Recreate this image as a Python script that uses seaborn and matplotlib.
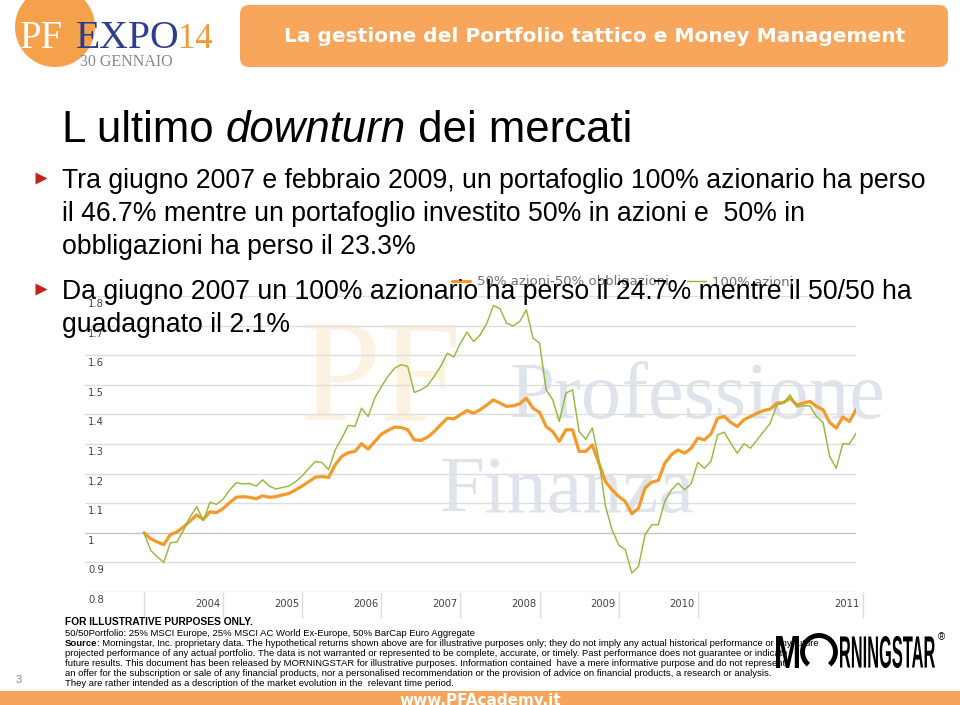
"""
L'ultimo downturn dei mercati - slide PF Expo 2014
Ricostruzione del grafico Morningstar (100% azioni vs 50/50) con seaborn.
"""

import matplotlib

matplotlib.use("Agg")

import matplotlib.pyplot as plt
import pandas as pd
import seaborn as sns
from matplotlib import font_manager
from matplotlib.lines import Line2D
from matplotlib.patches import Arc, Circle, FancyBboxPatch, PathPatch, Rectangle
from matplotlib.textpath import TextPath
from matplotlib.transforms import Affine2D, blended_transform_factory

# ---------------------------------------------------------------------------
# Data (monthly index values, Jan 2003 = 1.0)
# ---------------------------------------------------------------------------
MONTHS = list(range(109))

AZIONI_100 = [
    1.000, 0.941, 0.919, 0.900, 0.966, 0.969, 1.009, 1.054, 1.088, 1.041,
    1.103, 1.096, 1.114, 1.145, 1.169, 1.165, 1.167, 1.158, 1.179, 1.158,
    1.148, 1.153, 1.158, 1.173, 1.192, 1.218, 1.241, 1.237, 1.213, 1.280,
    1.320, 1.363, 1.359, 1.421, 1.393, 1.455, 1.494, 1.528, 1.556, 1.568,
    1.562, 1.474, 1.483, 1.497, 1.528, 1.562, 1.607, 1.594, 1.641, 1.678,
    1.646, 1.669, 1.708, 1.768, 1.757, 1.708, 1.699, 1.714, 1.753, 1.658,
    1.641, 1.483, 1.449, 1.376, 1.472, 1.483, 1.342, 1.316, 1.354, 1.247,
    1.089, 1.010, 0.959, 0.943, 0.864, 0.886, 0.993, 1.027, 1.027, 1.106,
    1.145, 1.168, 1.145, 1.166, 1.238, 1.218, 1.241, 1.331, 1.340, 1.303,
    1.269, 1.301, 1.286, 1.314, 1.342, 1.371, 1.432, 1.438, 1.466, 1.425,
    1.429, 1.429, 1.393, 1.373, 1.258, 1.218, 1.301, 1.300, 1.337,
]

AZIONI_50_OBBL_50 = [
    1.000, 0.980, 0.969, 0.960, 0.994, 1.003, 1.020, 1.040, 1.060, 1.045,
    1.071, 1.068, 1.082, 1.102, 1.120, 1.122, 1.120, 1.115, 1.125, 1.120,
    1.122, 1.128, 1.133, 1.145, 1.158, 1.173, 1.188, 1.190, 1.187, 1.230,
    1.258, 1.271, 1.275, 1.301, 1.283, 1.308, 1.333, 1.346, 1.357, 1.356,
    1.348, 1.314, 1.312, 1.323, 1.342, 1.365, 1.387, 1.385, 1.399, 1.413,
    1.404, 1.416, 1.432, 1.449, 1.438, 1.427, 1.429, 1.436, 1.455, 1.421,
    1.407, 1.359, 1.342, 1.309, 1.348, 1.348, 1.275, 1.275, 1.297, 1.235,
    1.173, 1.145, 1.123, 1.106, 1.064, 1.083, 1.151, 1.171, 1.177, 1.235,
    1.264, 1.280, 1.269, 1.286, 1.320, 1.314, 1.334, 1.387, 1.393, 1.373,
    1.359, 1.382, 1.393, 1.404, 1.413, 1.418, 1.438, 1.440, 1.455, 1.432,
    1.438, 1.444, 1.427, 1.416, 1.373, 1.354, 1.391, 1.376, 1.416,
]

SERIES_LABELS = ["50% azioni-50% obbligazioni", "100% azioni"]
Y_TICKS = [0.8, 0.9, 1.0, 1.1, 1.2, 1.3, 1.4, 1.5, 1.6, 1.7, 1.8]
Y_TICK_LABELS = ["0.8", "0.9", "1", "1.1", "1.2", "1.3", "1.4", "1.5", "1.6", "1.7", "1.8"]
YEAR_TICKS = [12, 24, 36, 48, 60, 72, 84, 109]
YEAR_LABELS = ["2004", "2005", "2006", "2007", "2008", "2009", "2010", "2011"]

# ---------------------------------------------------------------------------
# Text of the slide
# ---------------------------------------------------------------------------
BANNER = "La gestione del Portfolio tattico e Money Management"
BULLET_1 = [
    "Tra giugno 2007 e febbraio 2009, un portafoglio 100% azionario ha perso",
    "il 46.7% mentre un portafoglio investito 50% in azioni e  50% in",
    "obbligazioni ha perso il 23.3%",
]
BULLET_2 = [
    "Da giugno 2007 un 100% azionario ha perso il 24.7% mentre il 50/50 ha",
    "guadagnato il 2.1%",
]
FOOTER = [
    "50/50Portfolio: 25% MSCI Europe, 25% MSCI AC World Ex-Europe, 50% BarCap Euro Aggregate",
    None,  # Source line, built below with a bold prefix
    "projected performance of any actual portfolio. The data is not warranted or represented to be complete, accurate, or timely. Past performance does not guarantee or indicate",
    "future results. This document has been released by MORNINGSTAR for illustrative purposes. Information contained  have a mere informative purpose and do not represent",
    "an offer for the subscription or sale of any financial products, nor a personalised recommendation or the provision of advice on financial products, a research or analysis.",
    "They are rather intended as a description of the market evolution in the  relevant time period.",
]
FOOTER_Y = [633, 643, 653, 663, 673, 683]
SOURCE_REST = (": Morningstar, Inc. proprietary data. The hypothetical returns shown above are for "
               "illustrative purposes only; they do not imply any actual historical performance or any future")

# ---------------------------------------------------------------------------
# Styling
# ---------------------------------------------------------------------------
sns.set_style("white")
plt.rcParams["font.family"] = ["Liberation Sans", "DejaVu Sans"]

ORANGE = "#f39a2a"
GREEN = "#97b93b"
SLIDE_ORANGE = "#f8a65b"
NAVY = "#2d3c8e"


def pick_font(candidates):
    for name in candidates:
        try:
            font_manager.findfont(name, fallback_to_default=False)
            return name
        except ValueError:
            continue
    return "DejaVu Sans"


NARROW = pick_font(["Liberation Sans Narrow", "Liberation Sans"])
SERIF = pick_font(["Liberation Serif", "DejaVu Serif"])

W, H, DPI = 960, 705, 100
fig = plt.figure(figsize=(W / DPI, H / DPI), dpi=DPI)
PIX = Affine2D().scale(1 / DPI) + fig.dpi_scale_trans
renderer = fig.canvas.get_renderer()


def ftext(x, y, s, **kw):
    """Text at pixel position measured from the top-left corner."""
    return fig.text(x, H - y, s, transform=PIX, **kw)


# ---------------------------------------------------------------------------
# Background watermark (faint)
# ---------------------------------------------------------------------------
ftext(300, 420, "PF", fontsize=105, family=SERIF, color="#fdf1e2", zorder=-2)
ftext(510, 418, "Professione", fontsize=58, family=SERIF, color="#dfe3ec", zorder=-2)
ftext(440, 512, "Finanza", fontsize=58, family=SERIF, color="#dfe3ec", zorder=-2)

# ---------------------------------------------------------------------------
# Chart
# ---------------------------------------------------------------------------
ax = fig.add_axes([85 / W, 1 - 592 / H, (856 - 85) / W, (592 - 296) / H])
ax.set_facecolor("none")
df = pd.DataFrame({"mese": MONTHS, "bilanciato": AZIONI_50_OBBL_50, "azionario": AZIONI_100})

for y in Y_TICKS:
    ax.axhline(y, color="#c4c4c4" if y == 1.0 else "#dedede", lw=1.0, zorder=1)

sns.lineplot(data=df, x="mese", y="bilanciato", color=ORANGE, lw=2.3,
             label=SERIES_LABELS[0], ax=ax, zorder=3)
sns.lineplot(data=df, x="mese", y="azionario", color=GREEN, lw=1.05,
             label=SERIES_LABELS[1], ax=ax, zorder=4)

ax.set_xlim(-8.95, 108)
ax.set_ylim(0.8, 1.8)
ax.set_xticks([])
ax.set_yticks([])
ax.set_xlabel("")
ax.set_ylabel("")
for side in ax.spines.values():
    side.set_visible(False)

ytrans = blended_transform_factory(ax.transAxes, ax.transData)
for y, lbl in zip(Y_TICKS, Y_TICK_LABELS):
    ax.annotate(lbl, xy=(0.004, y), xycoords=ytrans, xytext=(0, -3),
                textcoords="offset pixels", va="top", ha="left",
                fontsize=7.2, family="DejaVu Sans", color="#444444")

# year band below the plot
xtrans = blended_transform_factory(ax.transData, PIX)
ax.vlines([0] + YEAR_TICKS, H - 618, H - 592, transform=xtrans, color="#dcdcdc",
          lw=1.0, clip_on=False)
for x, lbl in zip(YEAR_TICKS, YEAR_LABELS):
    ax.annotate(lbl, xy=(x, H - 604), xycoords=xtrans, xytext=(-3, 0),
                textcoords="offset pixels", ha="right", va="center",
                fontsize=7.2, family="DejaVu Sans", color="#444444")

leg = ax.legend(loc="center left", bbox_to_anchor=(452, H - 282), bbox_transform=PIX,
                ncol=2, frameon=False, borderpad=0, borderaxespad=0,
                handlelength=1.4, handletextpad=0.5, columnspacing=1.4,
                prop={"family": "DejaVu Sans", "size": 9.5})
for t in leg.get_texts():
    t.set_color("#707070")

# ---------------------------------------------------------------------------
# Header: logo and banner
# ---------------------------------------------------------------------------
fig.add_artist(Circle((55, H - 27), 40, transform=PIX, fc="#f5a04b", ec="none"))
ftext(20, 48, "PF", fontsize=28, family=SERIF, color="white")
ftext(76, 48, "EXPO", fontsize=28.5, family=SERIF, color=NAVY)
ftext(178, 48, "14", fontsize=25, family=SERIF, color="#f29a3a")
ftext(80, 62, "30 GENNAIO", fontsize=11.5, family=SERIF, color="#8a8a8a", va="center")

fig.add_artist(FancyBboxPatch((240, H - 67), 708, 62, transform=PIX,
                              boxstyle="round,pad=0,rounding_size=9",
                              fc=SLIDE_ORANGE, ec="none"))
ftext(595, 37, BANNER, fontsize=14.5, weight="bold", family="DejaVu Sans",
      color="white", ha="center", va="center")

# ---------------------------------------------------------------------------
# Title and bullets
# ---------------------------------------------------------------------------
x0 = 62
parts = [("L ultimo ", "normal"), ("downturn", "italic"), (" dei mercati", "normal")]
for s, style in parts:
    t = ftext(x0, 142, s, fontsize=31.5, style=style, color="black")
    x0 = t.get_window_extent(renderer).x1

for i, line in enumerate(BULLET_1):
    ftext(62, 188 + 33 * i, line, fontsize=19.2, color="black")
for i, line in enumerate(BULLET_2):
    ftext(62, 299 + 33 * i, line, fontsize=19.2, color="black")
for yb in (178, 289):
    fig.add_artist(Line2D([41], [H - yb], marker=">", ms=9, color="#c8201f",
                          mec="none", transform=PIX))

# ---------------------------------------------------------------------------
# Footer
# ---------------------------------------------------------------------------
FOOT = dict(fontsize=6.8, family=NARROW, color="black", va="center")
ftext(65, 622, "FOR ILLUSTRATIVE PURPOSES ONLY.", weight="bold",
      **{**FOOT, "fontsize": 7.4})
for y, line in zip(FOOTER_Y, FOOTER):
    if line is None:
        t = ftext(65, y, "Source", weight="bold", **FOOT)
        ftext(t.get_window_extent(renderer).x1, y, SOURCE_REST, **FOOT)
    else:
        ftext(65, y, line, **FOOT)
ftext(16, 680, "3", fontsize=8, color="#8a8a8a", va="center")


# Morningstar logo
def logo_word(s, x, y_top, w, h):
    tp = TextPath((0, 0), s, size=1, prop=font_manager.FontProperties(family=NARROW, weight="bold"))
    bb = tp.get_extents()
    tr = (Affine2D().translate(-bb.x0, -bb.y0).scale(w / bb.width, h / bb.height)
          .translate(x, H - y_top - h) + PIX)
    fig.add_artist(PathPatch(tp, transform=tr, fc="black", ec="none"))


fig.add_artist(Rectangle((774, H - 670), 174, 38, transform=PIX, fc="white", ec="none"))
logo_word("M", 776, 636, 23, 32)
fig.add_artist(Arc((819, H - 652), 33, 33, theta1=-50, theta2=230, transform=PIX,
                   lw=3.5, color="black"))
logo_word("RNINGSTAR", 840, 636, 95, 32)
ftext(941, 637, "®", fontsize=7, color="black", ha="center", va="center")

# bottom band
fig.add_artist(Rectangle((0, 0), W, H - 691, transform=PIX, fc="#f7a35c", ec="none"))
ftext(480, 700, "www.PFAcademy.it", fontsize=11, weight="bold", family="DejaVu Sans",
      color="white", ha="center", va="center")

fig.savefig("out.png", dpi=DPI)
